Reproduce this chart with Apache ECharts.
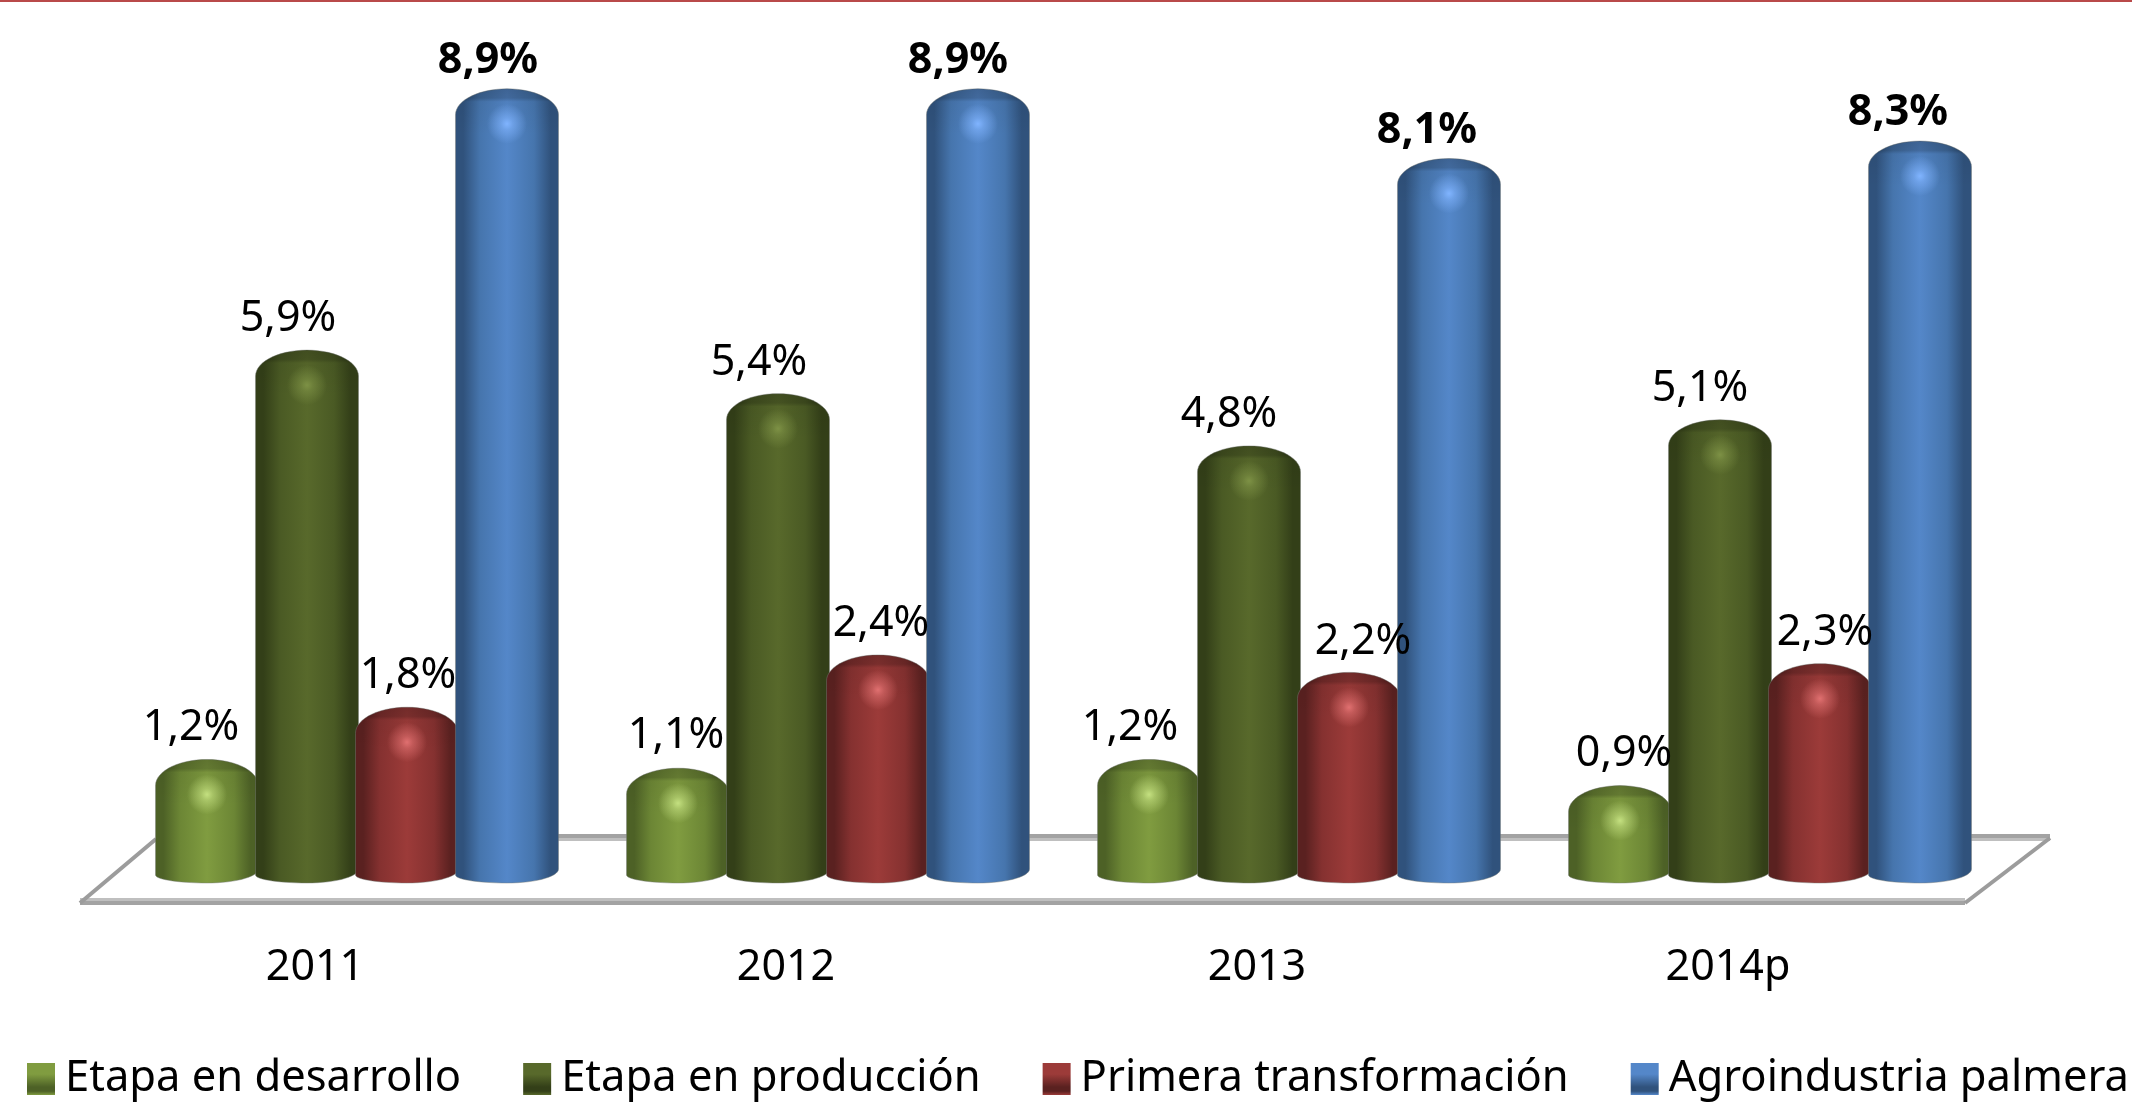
<!DOCTYPE html>
<html><head><meta charset="utf-8">
<style>html,body{margin:0;padding:0;background:#fff}#c{width:2132px;height:1107px}</style>
<script src="https://cdn.jsdelivr.net/npm/echarts@6/dist/echarts.min.js"></script>
</head><body><div id="c"></div>
<script>
const categories = ['2011', '2012', '2013', '2014p'];
const etapaDesarrollo = [1.2, 1.1, 1.2, 0.9];
const etapaProduccion = [5.9, 5.4, 4.8, 5.1];
const primeraTransformacion = [1.8, 2.4, 2.2, 2.3];
const agroindustriaPalmera = [8.9, 8.9, 8.1, 8.3];
const seriesNames = ['Etapa en desarrollo', 'Etapa en producción', 'Primera transformación', 'Agroindustria palmera'];
const seriesValues = [etapaDesarrollo, etapaProduccion, primeraTransformacion, agroindustriaPalmera];

// styling
const FONT = '"Noto Sans"';
const palette = [
  {edge:'#4d6126', mid:'#6c8635', main:'#809c40', hi:'#c4e080'},
  {edge:'#333f18', mid:'#4a5a24', main:'#58692b', hi:'#7d9145'},
  {edge:'#5a2120', mid:'#853130', main:'#9c3b39', hi:'#e07070'},
  {edge:'#30527c', mid:'#4675ad', main:'#5487c9', hi:'#80b4ff'}
];
const labelNudge = [[-16,-2,-19,4],[-19,-19,-20,-20],[1,3,14,5],[-19,-20,-22,-22]];
const labelRise = [32,31,31,28];
const boldLabels = [false,false,false,true];

function cylinder(si){
  return function(params, api){
    const c = +api.value(0), v = api.value(1);
    const band = api.size([1,0])[0];
    const w = band*0.2187, step = band*0.2123;
    const top = api.coord([c,v]);
    const zero = api.coord([c,0]);
    const cx = top[0] + (si-1.5)*step;
    const rx = w/2, ry = 26;
    const domeBase = top[1]+ry;
    const pts = [];
    for(let a=180;a>=0;a-=6){
      const r=a*Math.PI/180;
      pts.push([cx+rx*Math.cos(r), domeBase-ry*Math.sin(r)]);
    }
    for(let a=0;a<=180;a+=6){
      const r=a*Math.PI/180;
      const base = a<=90 ? zero[1]+5 : zero[1]+11;
      const ryb = a<=90 ? 14 : 8;
      pts.push([cx+rx*Math.cos(r), base+ryb*Math.sin(r)]);
    }
    const domePts = pts.slice(0,31);
    domePts.push([cx+rx, domeBase+20],[cx-rx, domeBase+20]);
    const p = palette[si];
    const text = v.toFixed(1).replace('.',',')+'%';
    return {type:'group', children:[
      {type:'polygon', shape:{points:pts}, style:{
        stroke:'rgba(120,125,120,0.45)', lineWidth:1,
        fill:{type:'linear',x:0,y:0,x2:1,y2:0,colorStops:[
          {offset:0,color:p.edge},{offset:0.08,color:p.edge},{offset:0.24,color:p.mid},{offset:0.5,color:p.main},
          {offset:0.76,color:p.mid},{offset:0.92,color:p.edge},{offset:1,color:p.edge}]}}},
      {type:'polygon', shape:{points:domePts}, style:{
        fill:{type:'linear',x:0,y:0,x2:0,y2:1,colorStops:[
          {offset:0,color:'rgba(0,0,0,0.26)'},{offset:0.2,color:'rgba(0,0,0,0.22)'},
          {offset:0.28,color:'rgba(0,0,0,0.05)'},{offset:1,color:'rgba(0,0,0,0)'}]}}},
      {type:'ellipse', shape:{cx, cy:top[1]+35, rx:rx*0.85, ry:20}, style:{
        fill:{type:'radial',x:0.5,y:0.5,r:0.5,colorStops:[
          {offset:0,color:p.hi},{offset:0.3,color:p.hi+'99'},{offset:1,color:p.hi+'00'}]}}},
      {type:'text', z2:100, style:{text, x:cx+labelNudge[si][c], y:top[1]-labelRise[si], fill:'#000',
        font:(boldLabels[si]?'bold 43':'43')+'px '+FONT, textAlign:'center', textVerticalAlign:'middle'}}
    ]};
  };
}

function legendIcon(p){
  return {type:'linear',x:0,y:0,x2:0,y2:1,colorStops:[
    {offset:0,color:p.main},{offset:0.35,color:p.main},{offset:0.75,color:p.edge},{offset:0.88,color:p.edge},{offset:1,color:p.main}]};
}

const chart = echarts.init(document.getElementById('c'), null, {renderer:'canvas'});
chart.setOption({
  animation:false,
  backgroundColor:'#fff',
  grid:{left:121.5, width:1884, top:36.55, height:827.45, containLabel:false},
  xAxis:{type:'category', data:categories, axisLine:{show:false}, axisTick:{show:false},
    axisLabel:{margin:82, color:'#000', fontFamily:FONT, fontSize:43, padding:[0,84,0,0], interval:0}},
  yAxis:{type:'value', min:0, max:9.5, show:false},
  legend:{left:22, top:1052, width:2200, itemWidth:28, itemHeight:32, itemGap:62, icon:'rect', selectedMode:false,
    textStyle:{color:'#000', fontFamily:FONT, fontSize:43.5, padding:[0,0,0,5]},
    data:seriesNames.map((n,i)=>({name:n, itemStyle:{color:legendIcon(palette[i])}}))},
  graphic:{elements:[
    {type:'rect', z:0, shape:{x:0,y:0,width:2132,height:2}, style:{fill:'#b94a4a'}},
    {type:'rect', z:0, shape:{x:156,y:834,width:1894,height:4}, style:{fill:'#a3a3a3'}},
    {type:'rect', z:0, shape:{x:156,y:838,width:1894,height:3}, style:{fill:'#bfbfbf'}},
    {type:'rect', z:0, shape:{x:80,y:898,width:1885,height:3}, style:{fill:'#bfbfbf'}},
    {type:'rect', z:0, shape:{x:80,y:901,width:1885,height:4}, style:{fill:'#a3a3a3'}},
    {type:'line', z:0, shape:{x1:80,y1:903,x2:156,y2:839}, style:{stroke:'#9c9c9c',lineWidth:4}},
    {type:'line', z:0, shape:{x1:1965,y1:903,x2:2050,y2:838}, style:{stroke:'#9c9c9c',lineWidth:4}}
  ]},
  series:seriesValues.map((vals,si)=>({
    type:'custom', name:seriesNames[si], z:2, clip:false,
    encode:{x:0,y:1},
    itemStyle:{color:palette[si].main},
    renderItem:cylinder(si),
    data:vals.map((v,i)=>[i,v])
  }))
});
</script></body></html>
